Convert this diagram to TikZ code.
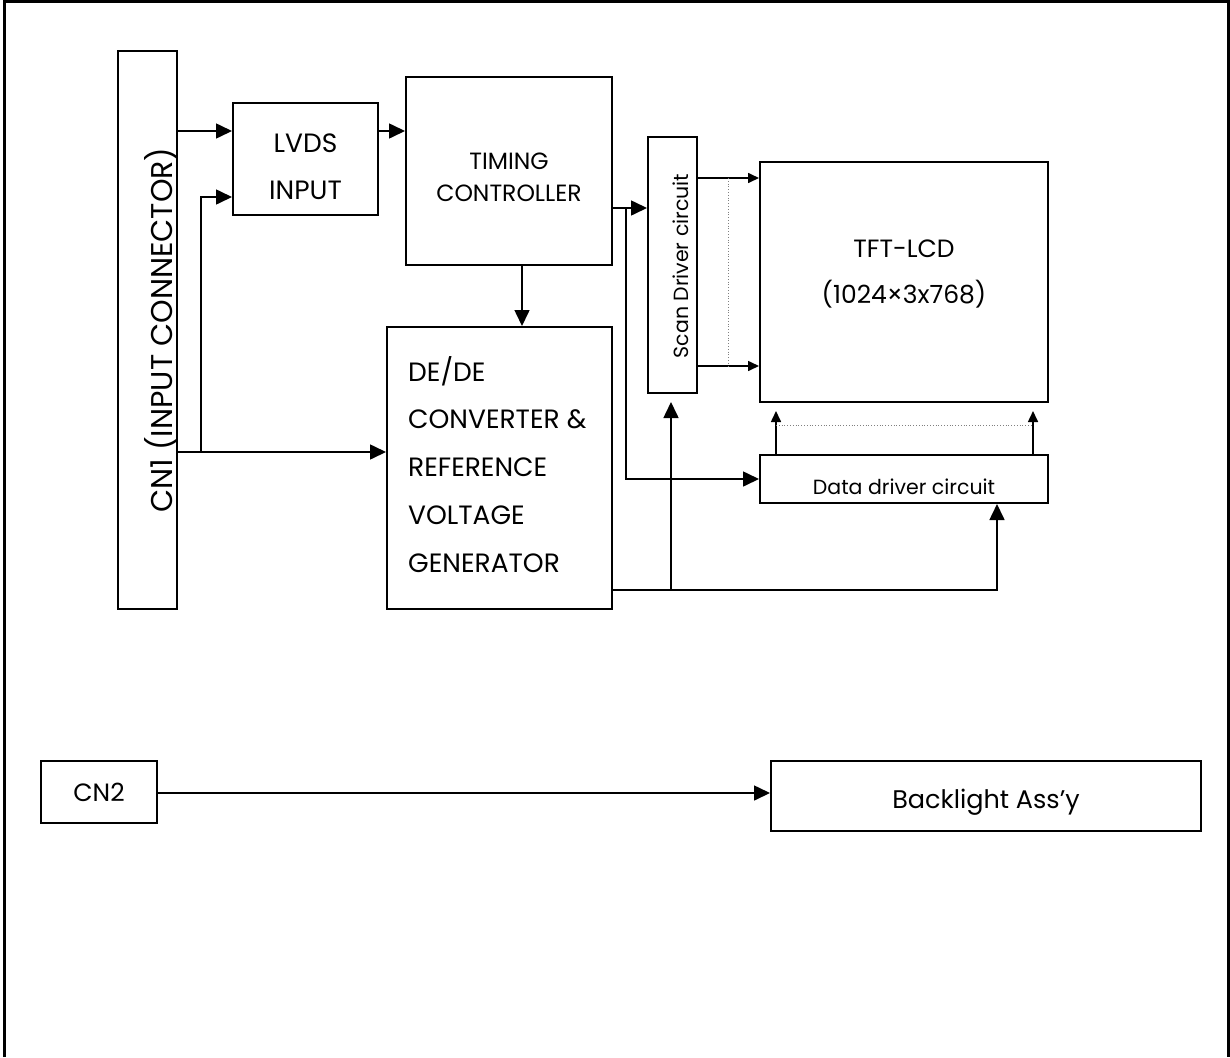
\documentclass[tikz,border=0pt]{standalone}
\usepackage{fontspec}
\setmainfont{Poppins}
\usetikzlibrary{arrows.meta,calc}
\begin{document}
\begin{tikzpicture}[x=1pt,y=-1pt,
  box/.style={draw,line width=2pt,inner sep=0pt},
  lbl/.style={anchor=base,inner sep=0pt,font=\fontsize{26.5}{30}\selectfont},
  lbltft/.style={anchor=base,inner sep=0pt,font=\fontsize{25}{29}\selectfont},
  lbltc/.style={anchor=base,inner sep=0pt,font=\fontsize{23.5}{27}\selectfont},
  lblsm/.style={anchor=base,inner sep=0pt,font=\fontsize{20.5}{24}\selectfont},
  lblcn/.style={anchor=base,inner sep=0pt,rotate=90,font=\fontsize{30}{34}\selectfont},
  arr/.style={line width=1.6pt,-{Triangle[length=16pt,width=15pt]}},
  sarr/.style={line width=1.6pt,-{Triangle[length=11pt,width=10pt]}},
  dotl/.style={line width=0.8pt,gray,dotted}
]
\useasboundingbox (0,0) rectangle (1230,1057);
% frame
\draw[line width=3pt] (4,1057) -- (4,2) -- (1228.5,2) -- (1228.5,1057);
% boxes
\node[box,minimum width=59pt,minimum height=558pt] (cn1) at (147.5,330) {};
\node[box,minimum width=145pt,minimum height=112pt] (lvds) at (305.5,159) {};
\node[box,minimum width=206pt,minimum height=188pt] (timing) at (509,171) {};
\node[box,minimum width=225pt,minimum height=282pt] (dcdc) at (499.5,468) {};
\node[box,minimum width=49pt,minimum height=256pt] (scan) at (672.5,265) {};
\node[box,minimum width=288pt,minimum height=240pt] (tft) at (904,282) {};
\node[box,minimum width=288pt,minimum height=48pt] (data) at (904,479) {};
\node[box,minimum width=116pt,minimum height=62pt] (cn2) at (99,792) {};
\node[box,minimum width=430pt,minimum height=70pt] (bl) at (986,796) {};
% texts
\node[lblcn] (tcn1) at (172,330) {CN1 (INPUT CONNECTOR)};
\node[lbl] (tlvds1) at (305.5,152) {LVDS};
\node[lbl] (tlvds2) at (305.5,199.5) {INPUT};
\node[lbltc] (ttim1) at (509,169.5) {TIMING};
\node[lbltc] (ttim2) at (509,201.5) {CONTROLLER};
\node[lbl,anchor=base west] (tdc1) at (408,381) {DE/DE};
\node[lbl,anchor=base west] (tdc2) at (408,428) {CONVERTER \&};
\node[lbl,anchor=base west] (tdc3) at (408,476) {REFERENCE};
\node[lbl,anchor=base west] (tdc4) at (408,524) {VOLTAGE};
\node[lbl,anchor=base west] (tdc5) at (408,572) {GENERATOR};
\node[lblsm,rotate=90] (tscan) at (688,266) {Scan Driver circuit};
\node[lbltft] (ttft1) at (904,257) {TFT-LCD};
\node[lbltft] (ttft2) at (904,303) {(1024×3x768)};
\node[lblsm] (tdata) at (904,494) {Data driver circuit};
\node[lbltft] (tcn2) at (99,801) {CN2};
\node[lbltft,font=\fontsize{25.5}{29}\selectfont] (tbl) at (986,808) {Backlight Ass’y};
% connectors
\coordinate (j1) at (201,452);
\coordinate (j2) at (626,208);
\coordinate (j3) at (671,590);
\draw[arr] (cn1.east |- 0,131) -- (lvds.west |- 0,131);
\draw[arr] (cn1.east |- j1) -- (dcdc.west |- j1);
\draw[arr] (j1) -- (j1 |- 0,197) -- (lvds.west |- 0,197);
\draw[arr] (lvds.east |- 0,131) -- (timing.west |- 0,131);
\draw[arr] (timing.south -| 522,0) -- (dcdc.north -| 522,0);
\draw[arr] (timing.east |- j2) -- (scan.west |- j2);
\draw[arr] (j2) |- (data.west);
\draw[sarr] (scan.east |- 0,178) -- (tft.west |- 0,178);
\draw[sarr] (scan.east |- 0,366) -- (tft.west |- 0,366);
\draw[dotl] (728,178) -- (728,366);
\draw[sarr,shorten >=8pt] (data.north -| 776,0) -- (tft.south -| 776,0);
\draw[sarr,shorten >=8pt] (data.north -| 1033,0) -- (tft.south -| 1033,0);
\draw[dotl] (776,425) -- (1033,425);
\draw[arr] (dcdc.east |- j3) -- (997,590) -- (data.south -| 997,0);
\draw[arr,shorten >=8pt] (j3) -- (scan.south -| j3);
\draw[arr] (cn2.east |- 0,793) -- (bl.west |- 0,793);
\end{tikzpicture}
\end{document}
